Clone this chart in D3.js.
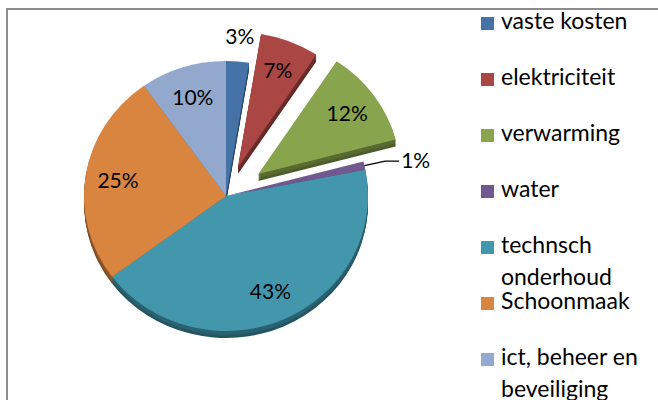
<!DOCTYPE html>
<html><head><meta charset="utf-8">
<script src="https://cdn.jsdelivr.net/npm/d3@7"></script>
<style>body{margin:0;background:#fff} svg{display:block}</style>
</head><body>
<svg id="c" width="658" height="400"></svg>
<script>
// ---- data ----
const categories = ["vaste kosten","elektriciteit","verwarming","water","technsch onderhoud","Schoonmaak","ict, beheer en beveiliging"];
const legendLines = [["vaste kosten"],["elektriciteit"],["verwarming"],["water"],["technsch","onderhoud"],["Schoonmaak"],["ict, beheer en","beveiliging"]];
const values = [2.6, 6.7, 11.6, 1.0, 42.9, 25.4, 9.8];
const explodedSlices = {"elektriciteit":0.23, "verwarming":0.28};
const colors = ["#4572A7","#AA4643","#88A44D","#71588F","#4297AD","#D9853F","#92A8CC"];

// ---- layout ----
const svg = d3.select("#c");
const cx = 226, cy = 196, R = 142, k = 135/142, depth = 7;
const FONT = "Lato, 'Open Sans', sans-serif";

svg.append("rect").attr("x",7).attr("y",9).attr("width",720).attr("height",460)
  .attr("fill","none").attr("stroke","#8c8c8c").attr("stroke-width",2);

const pie = d3.pie().sort(null).value(d=>d)(values);
const arc = d3.arc().innerRadius(0).outerRadius(R);
const labelArc = d3.arc().innerRadius(R*0.77).outerRadius(R*0.77);
const mid = d => (d.startAngle + d.endAngle)/2;
const off = (d,i) => { const e = explodedSlices[categories[i]] || 0; const a = mid(d); return [Math.sin(a)*R*e, -Math.cos(a)*R*e]; };

// sides (extrusion)
for (let s = depth; s >= 1; s--) {
  const g = svg.append("g").attr("transform",`translate(${cx},${cy+s}) scale(1,${k})`);
  g.selectAll("path").data(pie).join("path")
    .attr("transform",(d,i)=>`translate(${off(d,i)})`)
    .attr("d",arc)
    .attr("fill",(d,i)=>d3.color(colors[i]).darker(s>depth-3?1.6:1.2));
}
// tops
const gt = svg.append("g").attr("transform",`translate(${cx},${cy}) scale(1,${k})`);
gt.selectAll("path").data(pie).join("path")
  .attr("transform",(d,i)=>`translate(${off(d,i)})`)
  .attr("d",arc)
  .attr("fill",(d,i)=>colors[i]);

// labels
const toScreen = (p) => [cx + p[0], cy + p[1]*k];
pie.forEach((d,i)=>{
  const txt = Math.round(values[i]) + "%";
  const o = off(d,i);
  const a = mid(d);
  if (values[i] < 2) {
    const p0 = toScreen([Math.sin(a)*R, -Math.cos(a)*R]);
    const p1 = toScreen([Math.sin(a)*R*1.15, -Math.cos(a)*R*1.15]);
    const p2 = [p1[0]+14, p1[1]];
    svg.append("path").attr("d", d3.line()([p0,p1,p2])).attr("fill","none").attr("stroke","#000").attr("stroke-width",1.3);
    svg.append("text").attr("x",p2[0]+2).attr("y",p2[1]+7).attr("font-family",FONT).attr("font-size",21)
      .attr("fill","#000").text(txt);
  } else if (values[i] < 3) {
    const p = toScreen([Math.sin(a)*R*1.19, -Math.cos(a)*R*1.19]);
    svg.append("text").attr("x",p[0]).attr("y",p[1]+8).attr("text-anchor","middle").attr("font-family",FONT).attr("font-size",21)
      .attr("fill","#000").text(txt);
  } else {
    const c = labelArc.centroid(d);
    const p = toScreen([c[0]+o[0], c[1]+o[1]]);
    svg.append("text").attr("x",p[0]).attr("y",p[1]+8).attr("text-anchor","middle").attr("font-family",FONT).attr("font-size",21)
      .attr("fill","#000").text(txt);
  }
});

// legend
const lg = svg.append("g");
legendLines.forEach((lines,i)=>{
  const y0 = 17 + i*56;
  lg.append("rect").attr("x",481).attr("y",y0).attr("width",13).attr("height",13).attr("fill",colors[i]);
  lines.forEach((t,j)=>{
    lg.append("text").attr("x",501).attr("y",y0+12+j*32).attr("font-family",FONT).attr("font-size",23)
      .attr("fill","#000").text(t);
  });
});
</script>
</body></html>
